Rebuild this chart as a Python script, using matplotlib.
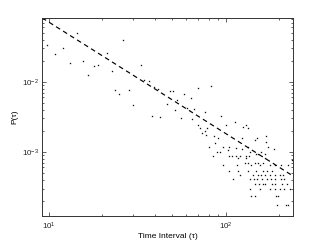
import matplotlib
matplotlib.use('Agg')
import matplotlib.pyplot as plt
import numpy as np
from matplotlib.ticker import LogLocator, NullFormatter

plt.rcParams['font.family'] = ['Liberation Sans', 'DejaVu Sans']
plt.rcParams['mathtext.default'] = 'regular'

# ---- data: scattered points (time interval tau, probability P) ----
tau_upper = [9.74, 10.85, 12.1, 13.2, 14.5, 15.6, 16.7, 18.0, 19.1, 21.4, 22.7, 23.8,
             25.0, 26.4, 28.5, 29.8, 33.3, 34.6, 36.8, 38.1, 39.1, 41.7, 42.8, 46.7,
             48.3, 50.5, 52.0, 53.4, 56.2, 58.2, 60.5, 64.1, 64.9, 66.6, 69.8, 69.9,
             71.9, 73.2, 76.0, 76.8, 77.5, 78.4, 83.0, 85.9, 87.5, 90.0, 94.6, 101.0,
             112.4, 125.2, 134.0, 124.0, 146.0, 151.0, 169.6, 170.0, 131.0, 103.0, 115.0]
p_upper = [0.033, 0.0251, 0.0303, 0.0185, 0.049, 0.0195, 0.0127, 0.0166, 0.0173, 0.0254, 0.0144, 0.0077,
           0.0067, 0.0389, 0.0077, 0.0047, 0.0171, 0.0107, 0.0104, 0.0032, 0.0084, 0.0079, 0.0031, 0.0049,
           0.0075, 0.0075, 0.0040, 0.0055, 0.0030, 0.0067, 0.0042, 0.0058, 0.0029, 0.0041, 0.0081, 0.0024,
           0.0022, 0.00185, 0.00376, 0.0020, 0.00175, 0.0022, 0.0086, 0.00166, 0.00136, 0.00157, 0.0033, 0.0024,
           0.00271, 0.0023, 0.0022, 0.00157, 0.00148, 0.00157, 0.00166, 0.0014, 0.00243, 0.00106, 0.00113]

# lower-right cluster, grouped by probability level
tau_lv02 = [201, 215, 228]
tau_lv03 = [195, 218, 226]
tau_lv04 = [140, 146, 192, 198]
tau_lv05 = [138, 156, 178, 190, 202, 215, 230]
tau_lv06 = [146, 154, 162, 168, 182, 191, 209, 222]
tau_lv07 = [110, 138, 144, 150, 161, 172, 181, 189, 206, 215]
tau_lv08 = [120, 143, 152, 158, 166, 178, 189, 202, 210]
tau_lv09 = [105, 117, 134, 149, 162, 172, 184]
tau_lv11 = [97, 116, 139, 156, 177, 189, 206, 225]
tau_lv12 = [128, 133, 146, 152, 162]
tau_lv13 = [238]
tau_lv14 = [118, 131, 168]
tau_lv15 = [85, 104, 108, 115, 121, 130, 135]
tau_lv16 = [148, 152, 166]
tau_lv17 = [89, 93, 137, 159]
tau_lv19 = [123, 187]
tau_lv20 = [80.5, 96, 105, 134, 173]
levels = {1.17e-4: tau_lv02, 1.76e-4: tau_lv03, 2.34e-4: tau_lv04, 2.93e-4: tau_lv05,
          3.51e-4: tau_lv06, 4.10e-4: tau_lv07, 4.68e-4: tau_lv08, 5.27e-4: tau_lv09,
          6.44e-4: tau_lv11, 7.02e-4: tau_lv12, 7.61e-4: tau_lv13, 8.19e-4: tau_lv14,
          8.78e-4: tau_lv15, 9.36e-4: tau_lv16, 9.95e-4: tau_lv17, 1.11e-3: tau_lv19,
          1.17e-3: tau_lv20}

# power-law fit (dashed line): P = amp * tau^(-alpha)
fit_amp = 2.77
fit_alpha = 1.59
fit_tau = np.array([9.17, 240.0])

x_ticks = [10, 100]
y_ticks = [1e-3, 1e-2]

# ---- figure ----
fig = plt.figure(figsize=(3.24, 2.44), dpi=100)
ax = fig.add_axes([0.130, 0.115, 0.774, 0.811])

tau_all = list(tau_upper)
p_all = list(p_upper)
for lvl, taus in levels.items():
    tau_all += taus
    p_all += [lvl] * len(taus)

ax.plot(tau_all, p_all, linestyle='none', marker='s', markersize=0.95,
        markeredgewidth=0, color='#111111')

fit_p = fit_amp * fit_tau ** (-fit_alpha)
ax.plot(fit_tau, fit_p, color='black', lw=0.85, linestyle='--', dashes=(4, 3))

ax.set_xscale('log')
ax.set_yscale('log')
ax.set_xlim(9.17, 240)
ax.set_ylim(1.22e-4, 0.0812)
ax.set_xticks(x_ticks)
ax.set_yticks(y_ticks)
ax.xaxis.set_minor_locator(LogLocator(base=10, subs=np.arange(2, 10), numticks=20))
ax.yaxis.set_minor_locator(LogLocator(base=10, subs=np.arange(2, 10), numticks=20))
ax.xaxis.set_minor_formatter(NullFormatter())
ax.yaxis.set_minor_formatter(NullFormatter())

ax.tick_params(which='both', direction='in', top=True, right=True, width=0.5,
               colors='#222222', labelsize=5.8)
ax.tick_params(which='major', length=3, pad=3.5)
ax.tick_params(which='minor', length=1.6)
ax.tick_params(axis='y', which='major', pad=2)
for s in ax.spines.values():
    s.set_linewidth(0.7)
    s.set_color('#333333')

ax.set_xlabel('Time Interval (τ)', fontsize=6, labelpad=1)
ax.set_ylabel('P(τ)', fontsize=6, labelpad=3)

fig.savefig('out.png', dpi=100)
